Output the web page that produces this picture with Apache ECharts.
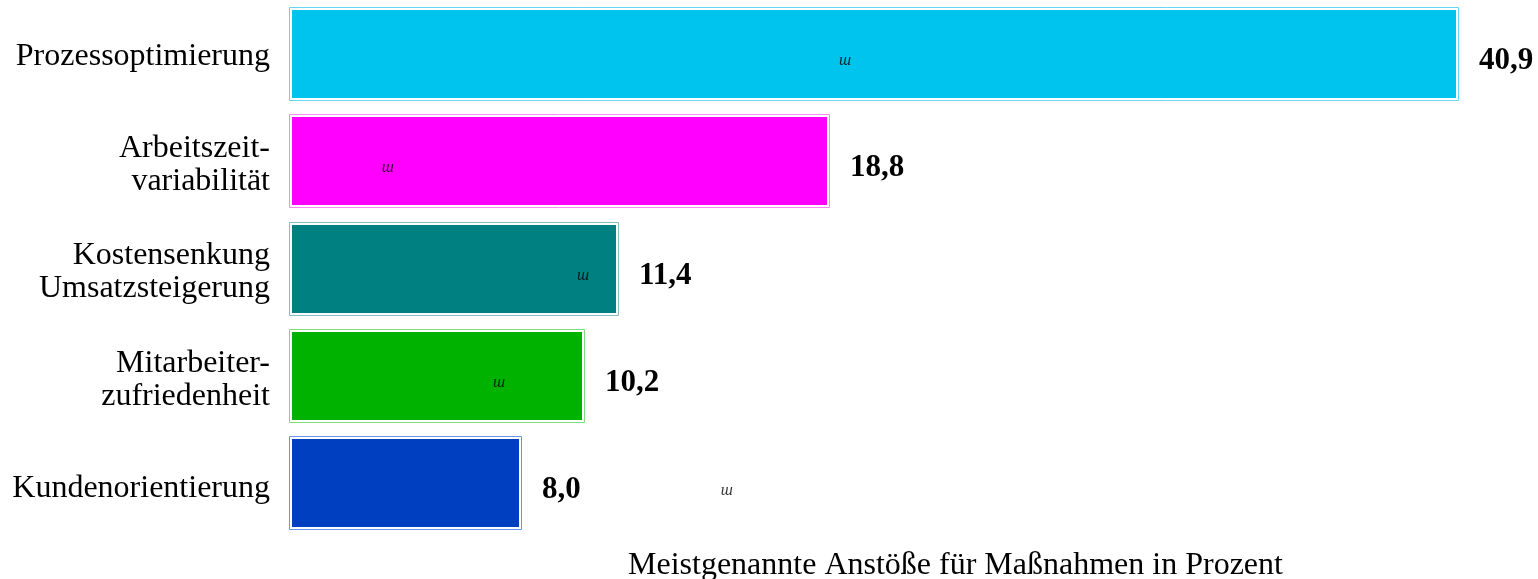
<!DOCTYPE html>
<html>
<head>
<meta charset="utf-8">
<script src="https://cdn.jsdelivr.net/npm/echarts@6/dist/echarts.min.js"></script>
<style>
  html, body { margin: 0; padding: 0; background: #ffffff; }
  #chart { width: 1538px; height: 579px; }
</style>
</head>
<body>
<div id="chart"></div>
<script>
// Meistgenannte Anstöße für Maßnahmen (Prozent)
const categories = [
  'Prozessoptimierung',
  'Arbeitszeit-\nvariabilität',
  'Kostensenkung\nUmsatzsteigerung',
  'Mitarbeiter-\nzufriedenheit',
  'Kundenorientierung'
];
const values = [40.9, 18.8, 11.4, 10.2, 8.0];
const fillColors = ['#00C3EE', '#FF00FF', '#008080', '#00B200', '#0040C0'];
const edgeColors = ['#66D6F4', '#FF88FF', '#7FBFBF', '#7FDD7F', '#6A92EE'];
// small marker glyphs sitting on each row: [value position, row index]
const markerPoints = [[19.45, 0], [3.4, 1], [10.25, 2], [7.3, 3], [15.3, 4]];
const axisTitle = 'Meistgenannte Anstöße für Maßnahmen in Prozent';

const serif = '"Liberation Serif", "Times New Roman", serif';

function fmt(v) {
  return v.toFixed(1).replace('.', ',');
}

const chart = echarts.init(document.getElementById('chart'), null, { renderer: 'canvas' });

chart.setOption({
  animation: false,
  backgroundColor: '#ffffff',
  grid: [
    // bars
    { left: 291, right: 82, top: -2, height: 539, containLabel: false },
    // category labels sit slightly below the bar centres
    { left: 291, right: 82, top: 3, height: 539, containLabel: false }
  ],
  title: {
    text: axisTitle,
    left: 623,
    top: 545,
    textStyle: { fontFamily: serif, fontSize: 32, fontWeight: 'normal', color: '#000' }
  },
  xAxis: [
    { type: 'value', gridIndex: 0, min: 0, max: 40.9, show: false },
    { type: 'value', gridIndex: 1, min: 0, max: 40.9, show: false }
  ],
  yAxis: [
    {
      type: 'category',
      gridIndex: 0,
      data: categories,
      inverse: true,
      show: false
    },
    {
      type: 'category',
      gridIndex: 1,
      data: categories,
      inverse: true,
      axisLine: { show: false },
      axisTick: { show: false },
      splitLine: { show: false },
      axisLabel: {
        margin: 21,
        fontFamily: serif,
        fontSize: 32,
        lineHeight: 33,
        color: '#000',
        align: 'right'
      }
    }
  ],
  series: [
    {
      type: 'custom',
      xAxisIndex: 0,
      yAxisIndex: 0,
      data: values.map((v, i) => [v, i]),
      encode: { x: 0, y: 1 },
      renderItem: function (params, api) {
        const v = api.value(0);
        const row = api.value(1);
        const p0 = api.coord([0, row]);
        const p1 = api.coord([v, row]);
        const band = api.size([0, 1])[1];
        const h = Math.round(band * 0.815);
        const x0 = Math.round(p0[0]) + 1;
        const x1 = Math.round(p1[0]);
        const y0 = Math.round(p1[1] - h / 2);
        const idx = params.dataIndex;
        return {
          type: 'group',
          children: [
            {
              type: 'rect',
              shape: { x: x0 - 2.5, y: y0 - 2.5, width: x1 - x0 + 5, height: h + 5 },
              style: { fill: null, stroke: edgeColors[idx], lineWidth: 1 }
            },
            {
              type: 'rect',
              shape: { x: x0, y: y0, width: x1 - x0, height: h },
              style: { fill: fillColors[idx] }
            },
            {
              type: 'text',
              x: x1 + 23,
              y: p1[1] + 7,
              style: {
                text: fmt(v),
                fontFamily: serif,
                fontSize: 31,
                fontWeight: 'bold',
                fill: '#000',
                align: 'left',
                verticalAlign: 'middle'
              }
            }
          ]
        };
      }
    },
    {
      type: 'scatter',
      xAxisIndex: 0,
      yAxisIndex: 0,
      data: markerPoints,
      symbolSize: 0,
      z: 5,
      label: {
        show: true,
        position: 'inside',
        offset: [0, 7],
        formatter: 'ш',
        fontFamily: serif,
        fontStyle: 'italic',
        fontSize: 16,
        color: '#000'
      }
    }
  ]
});
</script>
</body>
</html>
